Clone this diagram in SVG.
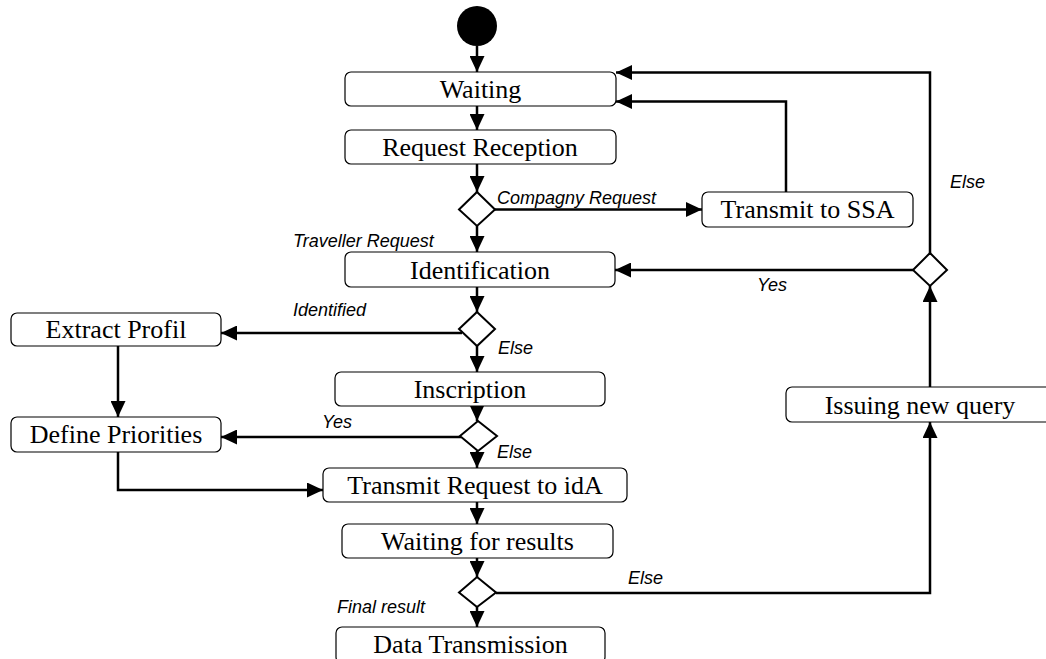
<svg xmlns="http://www.w3.org/2000/svg" width="1046" height="659" viewBox="0 0 1046 659">
<defs>
<marker id="arr" markerUnits="userSpaceOnUse" markerWidth="16" markerHeight="15" refX="16" refY="7.5" orient="auto">
<path d="M0,0 L16,7.5 L0,15 z" fill="#000"/>
</marker>
<style>
.box{fill:#fff;stroke:#000;stroke-width:1.2}
.dia{fill:#fff;stroke:#000;stroke-width:2}
.t{font-family:"Liberation Serif","Times New Roman",serif;font-size:26px;text-anchor:middle;fill:#000}
.l{font-family:"Liberation Sans",Arial,sans-serif;font-size:18px;font-style:italic;fill:#000}
.c{fill:none;stroke:#000;stroke-width:2.5}
.ca{fill:none;stroke:#000;stroke-width:2.5;marker-end:url(#arr)}
</style>
</defs>
<rect width="1046" height="659" fill="#fff"/>

<g id="connectors">
<line class="ca" x1="477" y1="46" x2="477" y2="72"/>
<line class="ca" x1="477" y1="106" x2="477" y2="130"/>
<line class="ca" x1="477" y1="164" x2="477" y2="192"/>
<line class="ca" x1="477" y1="226" x2="477" y2="252"/>
<line class="ca" x1="477" y1="287" x2="477" y2="312"/>
<line class="ca" x1="477" y1="346" x2="477" y2="372"/>
<line class="ca" x1="477" y1="406" x2="477" y2="421"/>
<line class="ca" x1="477" y1="451" x2="477" y2="468"/>
<line class="ca" x1="477" y1="502" x2="477" y2="524"/>
<line class="ca" x1="477" y1="558" x2="477" y2="577"/>
<line class="ca" x1="477" y1="607" x2="477" y2="627"/>
<line class="ca" x1="495" y1="209.5" x2="702" y2="209.5"/>
<polyline class="ca" points="786,192 786,101.5 616,101.5"/>
<polyline class="ca" points="930,253 930,72.5 616,72.5"/>
<line class="ca" x1="913" y1="270" x2="615" y2="270"/>
<line class="ca" x1="462" y1="333" x2="221" y2="333"/>
<line class="ca" x1="118" y1="346" x2="118" y2="417"/>
<line class="ca" x1="461" y1="437" x2="221" y2="437"/>
<polyline class="ca" points="118,452 118,490 323,490"/>
<polyline class="ca" points="496,593 930,593 930,422"/>
<line class="ca" x1="930" y1="387" x2="930" y2="286"/>
</g>

<g id="start"><circle cx="477" cy="26" r="20" fill="#000"/></g>

<g id="waiting"><rect class="box" x="345" y="72" width="271" height="34" rx="6"/><text class="t" x="480.5" y="98">Waiting</text></g>
<g id="request-reception"><rect class="box" x="345" y="130" width="271" height="34" rx="6"/><text class="t" x="480" y="156">Request Reception</text></g>
<g id="decision1"><polygon class="dia" points="477,192 495,209.5 477,226 459,209.5"/></g>
<g id="transmit-ssa"><rect class="box" x="702" y="192" width="211" height="35" rx="6"/><text class="t" x="807.5" y="218">Transmit to SSA</text></g>
<g id="identification"><rect class="box" x="345" y="252" width="270" height="35" rx="6"/><text class="t" x="480" y="279">Identification</text></g>
<g id="decision5"><polygon class="dia" points="930,253 947,270 930,286 913,270"/></g>
<g id="decision2"><polygon class="dia" points="477,312 495,329 477,346 459,329"/></g>
<g id="extract-profil"><rect class="box" x="11" y="313" width="210" height="33" rx="6"/><text class="t" x="116" y="338">Extract Profil</text></g>
<g id="inscription"><rect class="box" x="335" y="372" width="270" height="34" rx="6"/><text class="t" x="470" y="398">Inscription</text></g>
<g id="decision3"><polygon class="dia" points="478,421 497,436 478,451 460,436"/></g>
<g id="define-priorities"><rect class="box" x="11" y="417" width="210" height="35" rx="6"/><text class="t" x="116" y="443">Define Priorities</text></g>
<g id="transmit-ida"><rect class="box" x="323" y="468" width="304" height="34" rx="6"/><text class="t" x="475" y="494">Transmit Request to idA</text></g>
<g id="waiting-results"><rect class="box" x="342" y="524" width="271" height="34" rx="6"/><text class="t" x="477.5" y="550">Waiting for results</text></g>
<g id="decision4"><polygon class="dia" points="477,577 496,592.5 477,607 459,592.5"/></g>
<g id="data-transmission"><rect class="box" x="336" y="627" width="269" height="36" rx="6"/><text class="t" x="470.5" y="653">Data Transmission</text></g>
<g id="issuing-query"><rect class="box" x="786" y="387" width="300" height="35" rx="6"/><text class="t" x="920" y="414">Issuing new query</text></g>

<g id="labels">
<text class="l" x="497" y="204">Compagny Request</text>
<text class="l" x="293" y="247">Traveller Request</text>
<text class="l" x="293" y="316">Identified</text>
<text class="l" x="498" y="354">Else</text>
<text class="l" x="322" y="428">Yes</text>
<text class="l" x="497" y="458">Else</text>
<text class="l" x="337" y="613">Final result</text>
<text class="l" x="628" y="584">Else</text>
<text class="l" x="757" y="291">Yes</text>
<text class="l" x="950" y="188">Else</text>
</g>
</svg>
